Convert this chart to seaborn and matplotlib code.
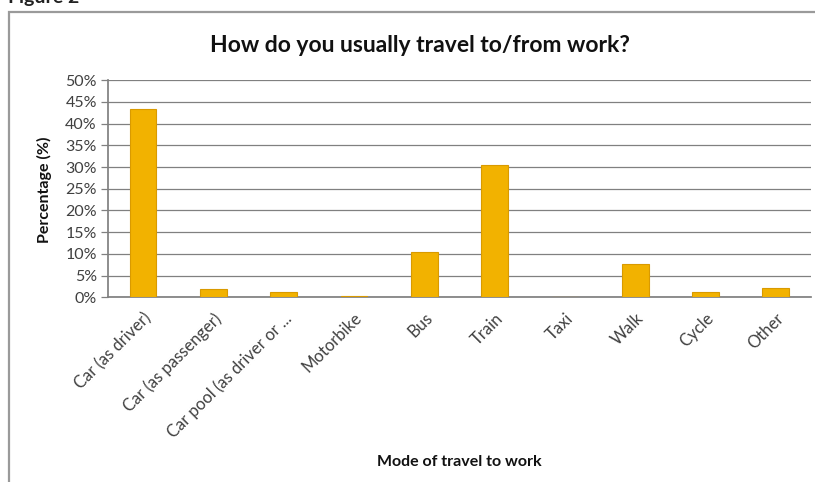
import matplotlib
matplotlib.use("Agg")
import matplotlib.pyplot as plt
import seaborn as sns
import pandas as pd
from matplotlib.patches import Rectangle
from matplotlib.ticker import PercentFormatter

modes = ["Car (as driver)", "Car (as passenger)", "Car pool (as driver or ...",
         "Motorbike", "Bus", "Train", "Taxi", "Walk", "Cycle", "Other"]
share = [43.3, 2.0, 1.3, 0.3, 10.4, 30.5, 0.0, 7.6, 1.2, 2.2]
yticks = [0, 5, 10, 15, 20, 25, 30, 35, 40, 45, 50]

df = pd.DataFrame({"mode": modes, "share": share})

sns.set_theme(style="white")
plt.rcParams["font.family"] = ["Lato", "DejaVu Sans"]

fig = plt.figure(figsize=(8.15, 4.82), dpi=100)
ax = fig.add_axes([0.1325, 0.3828, 0.8625, 0.4512])

sns.barplot(data=df, x="mode", y="share", ax=ax, color="#F2B200",
            width=0.38, edgecolor="#D99A00", linewidth=0.8, saturation=1, zorder=3)

ax.set_ylim(0, 50)
ax.set_yticks(yticks)
ax.yaxis.set_major_formatter(PercentFormatter(decimals=0))
ax.grid(axis="y", color="#808080", linewidth=0.9, zorder=0)
ax.set_axisbelow(True)
for side in ["top", "right"]:
    ax.spines[side].set_visible(False)
ax.spines["left"].set_color("#808080")
ax.spines["bottom"].set_color("#808080")
ax.tick_params(axis="y", which="major", left=True, length=5, width=0.9,
               color="#808080", labelsize=11.5, labelcolor="#404040", pad=3)
ax.tick_params(axis="x", bottom=False, labelsize=12, labelcolor="#404040", pad=3)
plt.setp(ax.get_xticklabels(), rotation=45, ha="right", rotation_mode="anchor")

ax.set_xlabel("Mode of travel to work", fontsize=11.5, fontweight="bold",
              color="#111111")
ax.xaxis.set_label_coords(0.5, -0.724)
ax.set_ylabel("Percentage (%)", fontsize=11.5, fontweight="bold",
              color="#111111")
ax.yaxis.set_label_coords(-0.08, 0.494)
fig.text(0.515, 0.905, "How do you usually travel to/from work?",
         fontsize=16.5, fontweight="bold", ha="center", va="center", color="#111111")

# outer chart frame and caption above it
fig.patches.append(Rectangle((9 / 815, -0.05), 1.2, 1 - 12 / 482 + 0.05,
                             transform=fig.transFigure, fill=False,
                             edgecolor="#9a9a9a", linewidth=1.6))
fig.text(0.01, 1.006, "Figure 2", fontsize=14, fontweight="bold",
         ha="left", va="center", color="#222222")

fig.savefig("out.png", dpi=100)
